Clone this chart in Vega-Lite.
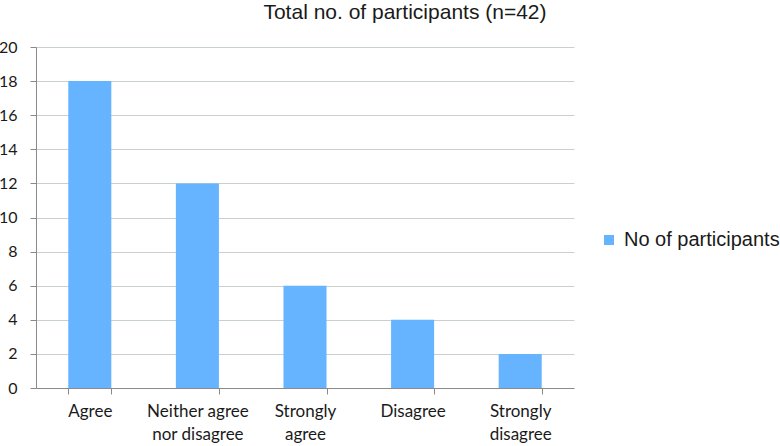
{
  "$schema": "https://vega.github.io/schema/vega-lite/v6.json",
  "autosize": "none",
  "width": 538,
  "height": 341,
  "padding": {"left": 36, "top": 47, "right": 206, "bottom": 58},
  "background": "white",
  "title": {
    "text": "Total no. of participants (n=42)",
    "anchor": "start",
    "dx": 265,
    "offset": 16,
    "font": "Liberation Sans",
    "fontSize": 21,
    "fontWeight": "normal",
    "color": "#1a1a1a"
  },
  "data": {
    "values": [
      {"response": "Agree", "count": 18, "series": "No of participants"},
      {"response": "Neither agree nor disagree", "count": 12, "series": "No of participants"},
      {"response": "Strongly agree", "count": 6, "series": "No of participants"},
      {"response": "Disagree", "count": 4, "series": "No of participants"},
      {"response": "Strongly disagree", "count": 2, "series": "No of participants"}
    ]
  },
  "mark": {"type": "bar"},
  "encoding": {
    "x": {
      "field": "response",
      "type": "nominal",
      "sort": null,
      "scale": {"paddingInner": 0.6, "paddingOuter": 0.3},
      "axis": {
        "title": null,
        "labelAngle": 0,
        "tickBand": "extent",
        "tickSize": 6,
        "tickColor": "#8a8a8a",
        "domainColor": "#8a8a8a",
        "labelFont": "Lato",
        "labelFontSize": 17,
        "labelColor": "#1a1a1a",
        "labelPadding": 9,
        "labelLineHeight": 23,
        "labelExpr": "datum.value == 'Neither agree nor disagree' ? ['Neither agree', 'nor disagree'] : datum.value == 'Strongly agree' ? ['Strongly', 'agree'] : datum.value == 'Strongly disagree' ? ['Strongly', 'disagree'] : datum.value"
      }
    },
    "y": {
      "field": "count",
      "type": "quantitative",
      "scale": {"domain": [0, 20]},
      "axis": {
        "title": null,
        "values": [0, 2, 4, 6, 8, 10, 12, 14, 16, 18, 20],
        "tickSize": 6,
        "tickColor": "#8a8a8a",
        "domainColor": "#8a8a8a",
        "gridColor": "#c8d0d0",
        "labelFont": "Lato",
        "labelFontSize": 16,
        "labelColor": "#1a1a1a",
        "labelPadding": 13
      }
    },
    "color": {
      "field": "series",
      "type": "nominal",
      "scale": {"range": ["#66B4FF"]},
      "legend": {
        "title": null,
        "orient": "none",
        "legendX": 563,
        "legendY": 183,
        "symbolType": "square",
        "symbolSize": 100,
        "labelFont": "Liberation Sans",
        "labelFontSize": 20,
        "labelColor": "#1a1a1a",
        "labelOffset": 5
      }
    }
  },
  "config": {"view": {"stroke": null}}
}
